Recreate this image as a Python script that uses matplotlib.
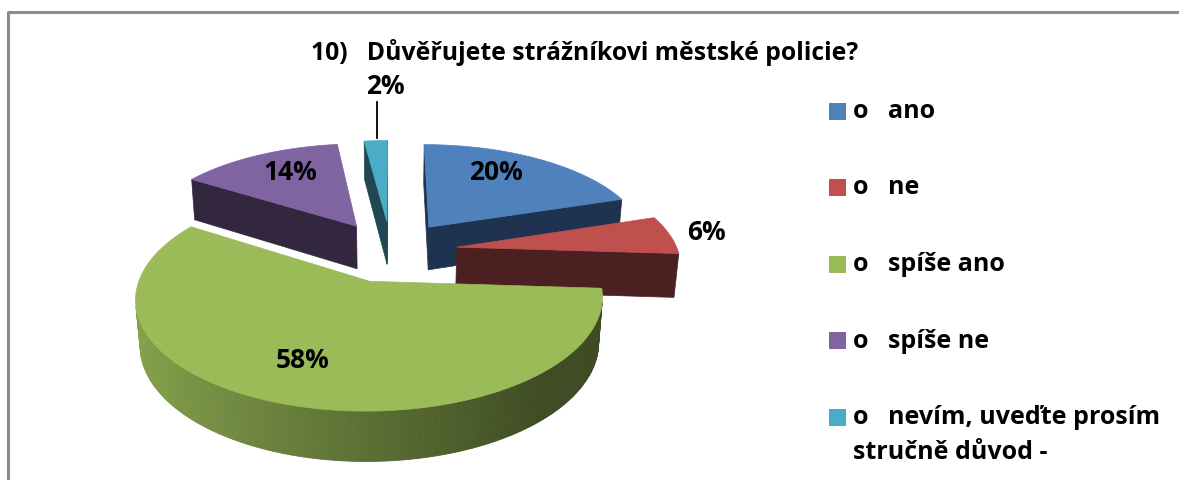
import numpy as np
import matplotlib.pyplot as plt
from matplotlib.patches import Polygon, Rectangle
from matplotlib.colors import to_rgb

plt.rcParams['font.family'] = ['Open Sans', 'DejaVu Sans']

# data
labels = ['o   ano', 'o   ne', 'o   spíše ano', 'o   spíše ne',
          'o   nevím, uveďte prosím\nstručně důvod -']
values = [20, 6, 58, 14, 2]
top_colors = ['#4F81BD', '#C0504D', '#9BBB59', '#8064A2', '#4BACC6']
side_colors = ['#1F3350', '#4C1F20', '#3E4B23', '#32273F', '#1F4852']
title = '10)   Důvěřujete strážníkovi městské policie?'

# label positions (pixels)
label_pos = [(496, 172), (706, 232), (303, 360), (290, 172), (385, 87)]

# 3d pie geometry (pixels)
cx, cy = 391, 251
R = 221
expl = 66.7
h = 50
s, c = np.sin(np.radians(27.2)), np.cos(np.radians(27.2))
D = 1514 * c
cam = np.array([0.0, -D * c, D * s])


def proj(x, y, z):
    d = y * c - z * s
    f = D / (D + d)
    return cx + x * f, cy - (y * s + z * c) * f


def mix(a, b, t):
    a, b = np.array(to_rgb(a)), np.array(to_rgb(b))
    return tuple(a + (b - a) * t)


fig = plt.figure(figsize=(11.79, 4.8), dpi=100)
ax = fig.add_axes([0, 0, 1, 1])
ax.set_xlim(0, 1179)
ax.set_ylim(480, 0)
ax.axis('off')

# chart frame
ax.plot([8, 8, 1179], [480, 12, 12], color='#8C8C8C', lw=2.2)

total = sum(values)
bounds = np.cumsum([0] + values) / total * 2 * np.pi
slices = []
for i in range(len(values)):
    t1, t2 = bounds[i], bounds[i + 1]
    mid = (t1 + t2) / 2
    ox, oy = expl * np.sin(mid), expl * np.cos(mid)
    slices.append((oy, i, t1, t2, ox))

# back slices first
for oy, i, t1, t2, ox in sorted(slices, reverse=True):
    th = np.linspace(t1, t2, max(int((t2 - t1) * 80), 4))
    ax_ = ox + R * np.sin(th)
    ay_ = oy + R * np.cos(th)

    # radial walls
    for t, sign in ((t1, -1), (t2, 1)):
        n = np.array([np.sin(t + sign * np.pi / 2), np.cos(t + sign * np.pi / 2)])
        if n @ (cam[:2] - np.array([ox, oy])) > 0:
            ex, ey = ox + R * np.sin(t), oy + R * np.cos(t)
            pts = [proj(ox, oy, 0), proj(ex, ey, 0), proj(ex, ey, -h), proj(ox, oy, -h)]
            ax.add_patch(Polygon(pts, closed=True, fc=side_colors[i],
                                 ec=side_colors[i], lw=0.5))

    # outer wall
    vis = np.sin(th) * (cam[0] - ax_) + np.cos(th) * (cam[1] - ay_) > 0
    for k in range(len(th) - 1):
        if not (vis[k] and vis[k + 1]):
            continue
        if i == 2:
            t = np.clip((np.sin(th[k]) + 1) / 2 / 0.85, 0, 1)
            col = mix('#86A44D', '#3E4B23', t)
        else:
            col = side_colors[i]
        pts = [proj(ax_[k], ay_[k], 0), proj(ax_[k + 1], ay_[k + 1], 0),
               proj(ax_[k + 1], ay_[k + 1], -h), proj(ax_[k], ay_[k], -h)]
        ax.add_patch(Polygon(pts, closed=True, fc=col, ec=col, lw=0.6))

    # top face
    pts = [proj(ox, oy, 0)] + [proj(a, b, 0) for a, b in zip(ax_, ay_)]
    ax.add_patch(Polygon(pts, closed=True, fc=top_colors[i], ec=top_colors[i], lw=0.5))

# data labels
for v, (x, y) in zip(values, label_pos):
    ax.text(x, y, f'{v}%', ha='center', va='center', fontsize=19,
            fontweight='bold', color='black')

# leader line for the small slice
ax.plot([377, 377], [102, 138], color='black', lw=1.3)

ax.text(585, 52, title, ha='center', va='center', fontsize=17.8, fontweight='bold')

# legend
for i, lab in enumerate(labels):
    y = 111 + i * 76.5
    ax.add_patch(Rectangle((829, y - 8.5), 17, 17, fc=top_colors[i], ec='none'))
    ax.text(853, y - 12, lab, ha='left', va='top', fontsize=18,
            fontweight='bold', linespacing=1.55)

fig.savefig('out.png', dpi=100)
